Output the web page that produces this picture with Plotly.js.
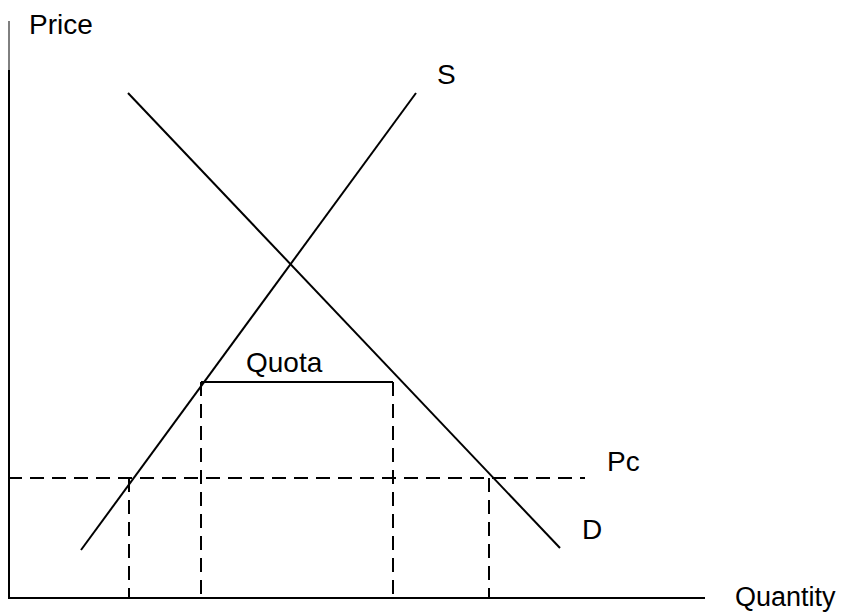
<!DOCTYPE html>
<html>
<head>
<meta charset="utf-8">
<script src="https://cdn.plot.ly/plotly-3.0.1.min.js"></script>
<style>html,body{margin:0;padding:0;background:#fff;}#chart{width:843px;height:614px;}</style>
</head>
<body>
<div id="chart"></div>
<script>
// Quantity (x) and price (y) values
const supplyQ = [72, 407];
const supplyP = [48, 505];
const demandQ = [119, 551];
const demandP = [505, 50];
const pcQ = [-1, 576];
const pcP = [120, 120];
const quotaTopQ = [192, 384];
const quotaTopP = [216, 216];
const quotaLeftQ = [192, 192];
const quotaRightQ = [384, 384];
const quotaSideP = [216, 0];
const pcLeftQ = [120, 120];
const pcRightQ = [480, 480];
const pcSideP = [120, 0];
const xAxisQ = [-1, 696];
const xAxisP = [0, 0];
const yAxisQ = [0, 0];
const yAxisThickP = [0, 528];
const yAxisThinP = [528, 577];

const labels = [
  {text: 'Price', q: 18, p: 574, anchor: 'left', size: 28},
  {text: 'S', q: 437, p: 524, anchor: 'center', size: 28},
  {text: 'Quota', q: 275, p: 236, anchor: 'center', size: 28},
  {text: 'Pc', q: 614, p: 137, anchor: 'center', size: 28},
  {text: 'D', q: 583, p: 69, anchor: 'center', size: 28},
  {text: 'Quantity', q: 776, p: 1, anchor: 'center', size: 27}
];

const solid = {color: '#000', width: 2};
const dashed = {color: '#000', width: 2, dash: '14px,8px'};
function tr(x, y, line) { return {x: x, y: y, mode: 'lines', line: line, hoverinfo: 'skip', showlegend: false}; }

const data = [
  tr(supplyQ, supplyP, solid),
  tr(demandQ, demandP, solid),
  tr(pcQ, pcP, dashed),
  tr(quotaTopQ, quotaTopP, solid),
  tr(quotaLeftQ, quotaSideP, dashed),
  tr(quotaRightQ, quotaSideP, dashed),
  tr(pcLeftQ, pcSideP, dashed),
  tr(pcRightQ, pcSideP, dashed),
  tr(xAxisQ, xAxisP, solid),
  tr(yAxisQ, yAxisThickP, solid),
  tr(yAxisQ, yAxisThinP, {color: '#000', width: 1})
];

const annotations = labels.map(l => ({
  text: l.text, x: l.q, y: l.p, xref: 'x', yref: 'y', showarrow: false,
  xanchor: l.anchor, yanchor: 'middle',
  font: {family: 'Liberation Sans, Arial, sans-serif', size: l.size, color: '#000'}
}));

const layout = {
  width: 843, height: 614,
  margin: {l: 0, r: 0, t: 0, b: 0},
  paper_bgcolor: '#fff', plot_bgcolor: '#fff',
  xaxis: {range: [-9, 834], showgrid: false, zeroline: false, showticklabels: false, showline: false, fixedrange: true},
  yaxis: {range: [-16, 598], showgrid: false, zeroline: false, showticklabels: false, showline: false, fixedrange: true},
  annotations: annotations,
  showlegend: false
};

Plotly.newPlot('chart', data, layout, {displayModeBar: false, staticPlot: true});
</script>
</body>
</html>
